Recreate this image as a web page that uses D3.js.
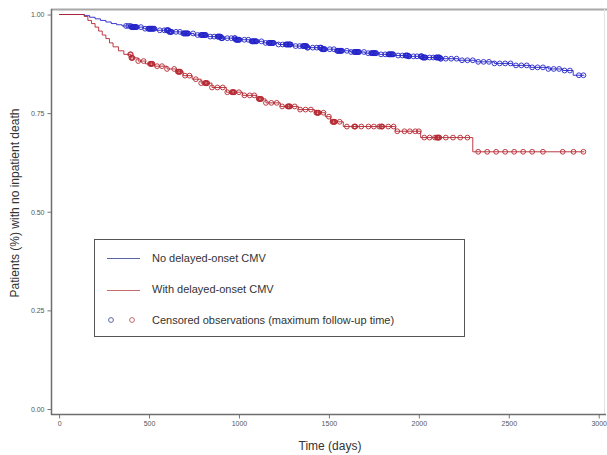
<!DOCTYPE html>
<html>
<head>
<meta charset="utf-8">
<script src="https://cdn.jsdelivr.net/npm/d3@7"></script>
<style>
    body { margin: 0; background: #fff; }
    svg { display: block; font-family: "Liberation Sans", Arial, sans-serif; }
</style>
</head>
<body>
<script>
// Kaplan-Meier steps: time of each drop (days) and survival after it
var noCmvTimes = [0, 140, 170, 200, 230, 260, 290, 320, 350, 400, 470, 540, 610, 680, 750, 820, 900, 980, 1060, 1140, 1220, 1300, 1380, 1460, 1540, 1620, 1700, 1780, 1860, 1940, 2020, 2120, 2220, 2320, 2420, 2520, 2620, 2720, 2800, 2858];
var noCmvSurv = [1.000, 0.997, 0.993, 0.989, 0.985, 0.981, 0.977, 0.974, 0.971, 0.968, 0.964, 0.960, 0.956, 0.952, 0.948, 0.944, 0.940, 0.936, 0.932, 0.928, 0.924, 0.920, 0.916, 0.912, 0.908, 0.905, 0.902, 0.899, 0.896, 0.894, 0.891, 0.888, 0.884, 0.880, 0.876, 0.871, 0.866, 0.862, 0.858, 0.846];
var noCmvEnd = 2920;

var cmvTimes = [0, 140, 160, 180, 200, 220, 240, 260, 280, 300, 330, 360, 400, 440, 480, 530, 600, 650, 690, 740, 790, 850, 930, 1020, 1100, 1150, 1230, 1330, 1420, 1480, 1510, 1580, 1870, 2010, 2300];
var cmvSurv = [1.000, 0.995, 0.985, 0.977, 0.968, 0.958, 0.948, 0.939, 0.928, 0.918, 0.908, 0.899, 0.890, 0.882, 0.875, 0.869, 0.862, 0.855, 0.845, 0.836, 0.826, 0.815, 0.803, 0.795, 0.786, 0.776, 0.767, 0.759, 0.751, 0.741, 0.728, 0.716, 0.704, 0.688, 0.652];
var cmvEnd = 2920;

// censored observations (days)
var noCmvCensor = [372, 385, 398, 402, 405, 409, 412, 415, 418, 422, 425, 428, 432, 455, 478, 495, 499, 502, 505, 508, 512, 515, 519, 522, 526, 530, 560, 585, 598, 602, 605, 609, 612, 616, 619, 623, 626, 650, 672, 690, 694, 697, 701, 704, 708, 711, 715, 718, 745, 770, 788, 792, 795, 799, 802, 806, 809, 813, 816, 840, 862, 880, 884, 887, 891, 894, 898, 901, 905, 908, 935, 958, 975, 979, 982, 986, 989, 993, 996, 1000, 1003, 1030, 1052, 1070, 1074, 1077, 1081, 1084, 1088, 1091, 1095, 1098, 1125, 1148, 1165, 1169, 1172, 1176, 1179, 1183, 1186, 1190, 1193, 1220, 1243, 1260, 1264, 1267, 1271, 1274, 1278, 1281, 1285, 1288, 1315, 1338, 1355, 1359, 1362, 1366, 1369, 1373, 1376, 1380, 1383, 1410, 1433, 1450, 1454, 1457, 1461, 1464, 1468, 1471, 1475, 1478, 1505, 1528, 1545, 1549, 1552, 1556, 1559, 1563, 1566, 1570, 1573, 1600, 1623, 1640, 1644, 1647, 1651, 1654, 1658, 1661, 1665, 1668, 1695, 1718, 1735, 1739, 1742, 1746, 1749, 1753, 1756, 1760, 1763, 1790, 1813, 1830, 1834, 1837, 1841, 1844, 1848, 1851, 1855, 1858, 1885, 1908, 1925, 1929, 1932, 1936, 1939, 1943, 1946, 1970, 1990, 2010, 2014, 2017, 2021, 2024, 2028, 2031, 2035, 2038, 2060, 2080, 2095, 2099, 2102, 2106, 2109, 2113, 2116, 2120, 2123, 2150, 2180, 2210, 2240, 2270, 2300, 2330, 2360, 2390, 2420, 2450, 2480, 2510, 2540, 2570, 2600, 2630, 2660, 2690, 2720, 2750, 2780, 2810, 2840, 2890, 2915];
var cmvCensor = [395, 399, 402, 405, 409, 440, 470, 505, 509, 512, 516, 519, 545, 572, 600, 640, 660, 664, 667, 671, 674, 700, 725, 760, 790, 810, 814, 817, 821, 824, 850, 880, 910, 935, 960, 964, 967, 971, 974, 1000, 1030, 1060, 1085, 1110, 1114, 1117, 1121, 1124, 1150, 1180, 1210, 1240, 1270, 1274, 1277, 1281, 1284, 1310, 1340, 1370, 1400, 1430, 1434, 1437, 1441, 1444, 1470, 1500, 1520, 1524, 1527, 1531, 1534, 1560, 1600, 1640, 1644, 1647, 1680, 1720, 1750, 1780, 1790, 1794, 1797, 1830, 1860, 1880, 1920, 1950, 1980, 2000, 2030, 2060, 2090, 2100, 2104, 2107, 2111, 2114, 2150, 2190, 2230, 2270, 2330, 2380, 2430, 2480, 2530, 2580, 2630, 2690, 2800, 2860, 2915];

var xTicks = [0, 500, 1000, 1500, 2000, 2500, 3000];
var yTicks = [0, 0.25, 0.5, 0.75, 1];
var legendLabels = ['No delayed-onset CMV', 'With delayed-onset CMV', 'Censored observations (maximum follow-up time)'];

var blue = '#2424c8',
    red = '#b42630';

var width = 607,
    height = 455;

var svg = d3.select('body')
    .append('svg')
    .attr('width', width)
    .attr('height', height);

var x = d3.scaleLinear()
    .domain([-45, 3035])
    .range([51, 605]);

var y = d3.scaleLinear()
    .domain([0, 1])
    .range([409, 14.5]);

// plot frame: light top/right, darker axes
svg.append('line').attr('x1', 51).attr('x2', 607).attr('y1', 9.5).attr('y2', 9.5)
    .attr('stroke', '#a8a8a8').attr('stroke-width', 2);
svg.append('line').attr('x1', 604.5).attr('x2', 604.5).attr('y1', 9).attr('y2', 414)
    .attr('stroke', '#e4e4e4').attr('stroke-width', 1);

var xAxis = d3.axisBottom(x)
    .tickValues(xTicks)
    .tickSize(4)
    .tickSizeOuter(0)
    .tickFormat(d3.format('d'));

svg.append('g')
    .attr('class', 'axis')
    .attr('transform', 'translate(0,414.5)')
    .call(xAxis);

var yAxis = d3.axisLeft(y)
    .tickValues(yTicks)
    .tickSize(4)
    .tickSizeOuter(0)
    .tickFormat(d3.format('.2f'));

svg.append('g')
    .attr('class', 'axis')
    .attr('transform', 'translate(51.5,0)')
    .call(yAxis);

// stretch axis domains to the frame corners
svg.selectAll('.axis .domain').remove();
svg.append('line').attr('x1', 51.5).attr('x2', 51.5).attr('y1', 9).attr('y2', 415)
    .attr('stroke', '#6e6e6e').attr('stroke-width', 1.5);
svg.append('line').attr('x1', 51).attr('x2', 606).attr('y1', 414.5).attr('y2', 414.5)
    .attr('stroke', '#6e6e6e').attr('stroke-width', 1.5);

svg.selectAll('.axis .tick line').attr('stroke', '#777');
svg.selectAll('.axis .tick text')
    .attr('fill', '#555')
    .style('font-size', '7px');

// axis titles
svg.append('text')
    .attr('x', 330)
    .attr('y', 450)
    .attr('text-anchor', 'middle')
    .attr('fill', '#333')
    .style('font-size', '12px')
    .text('Time (days)');

svg.append('text')
    .attr('transform', 'translate(19,203) rotate(-90)')
    .attr('text-anchor', 'middle')
    .attr('fill', '#333')
    .style('font-size', '12px')
    .text('Patients (%) with no inpatient death');

// build step paths
function stepData(times, surv, end) {
    var pts = times.map(function (t, i) {
        return [t, surv[i]];
    });
    pts.push([end, surv[surv.length - 1]]);
    return pts;
}

function survAt(times, surv, t) {
    var i = d3.bisectRight(times, t) - 1;
    return surv[Math.max(i, 0)];
}

var line = d3.line()
    .x(function (d) { return x(d[0]); })
    .y(function (d) { return y(d[1]); })
    .curve(d3.curveStepAfter);

var groups = [
    { times: noCmvTimes, surv: noCmvSurv, end: noCmvEnd, censor: noCmvCensor, color: blue },
    { times: cmvTimes, surv: cmvSurv, end: cmvEnd, censor: cmvCensor, color: red }
];

groups.forEach(function (g) {
    svg.append('path')
        .datum(stepData(g.times, g.surv, g.end))
        .attr('d', line)
        .attr('fill', 'none')
        .attr('stroke', g.color)
        .attr('stroke-width', 0.9);

    svg.append('g')
        .selectAll('circle')
        .data(g.censor)
        .enter()
        .append('circle')
        .attr('cx', function (d) { return x(d); })
        .attr('cy', function (d) { return y(survAt(g.times, g.surv, d)); })
        .attr('r', 2.4)
        .attr('fill', 'none')
        .attr('stroke', g.color)
        .attr('stroke-width', 0.9);
});

// legend
var legend = svg.append('g');

legend.append('rect')
    .attr('x', 94.5)
    .attr('y', 239.5)
    .attr('width', 370)
    .attr('height', 97)
    .attr('fill', '#fff')
    .attr('stroke', '#555')
    .attr('stroke-width', 1);

legend.append('line')
    .attr('x1', 107).attr('x2', 140).attr('y1', 258.5).attr('y2', 258.5)
    .attr('stroke', '#5866a8').attr('stroke-width', 1);
legend.append('line')
    .attr('x1', 107).attr('x2', 140).attr('y1', 290.5).attr('y2', 290.5)
    .attr('stroke', '#c46a6a').attr('stroke-width', 1);
legend.append('circle')
    .attr('cx', 111).attr('cy', 320).attr('r', 2.4)
    .attr('fill', 'none').attr('stroke', '#5866a8').attr('stroke-width', 1);
legend.append('circle')
    .attr('cx', 132).attr('cy', 320).attr('r', 2.4)
    .attr('fill', 'none').attr('stroke', '#c46a6a').attr('stroke-width', 1);

legend.selectAll('.legendText')
    .data(legendLabels)
    .enter()
    .append('text')
    .attr('class', 'legendText')
    .attr('x', 152)
    .attr('y', function (d, i) { return 262 + i * 31; })
    .attr('fill', '#333')
    .style('font-size', '11px')
    .text(function (d) { return d; });
</script>
</body>
</html>
